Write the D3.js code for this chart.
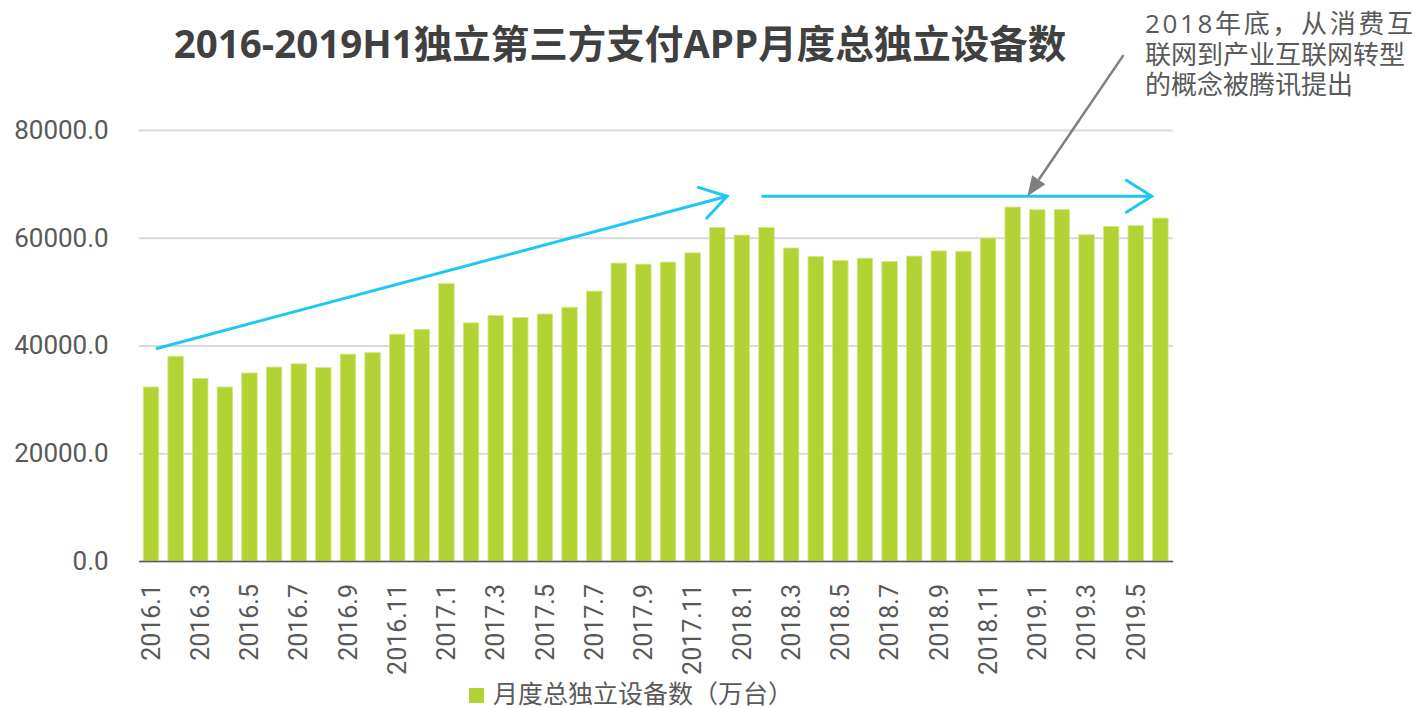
<!DOCTYPE html>
<html>
<head>
<meta charset="utf-8">
<script src="https://cdn.jsdelivr.net/npm/d3@7"></script>
<style>
  body { margin: 0; background: #fff; }
  svg { display: block; }
  text { fill: #595959; }
</style>
</head>
<body>
<div class="chart"></div>
<script>
const months = [
  '2016.1','2016.2','2016.3','2016.4','2016.5','2016.6','2016.7','2016.8','2016.9','2016.10','2016.11','2016.12',
  '2017.1','2017.2','2017.3','2017.4','2017.5','2017.6','2017.7','2017.8','2017.9','2017.10','2017.11','2017.12',
  '2018.1','2018.2','2018.3','2018.4','2018.5','2018.6','2018.7','2018.8','2018.9','2018.10','2018.11','2018.12',
  '2019.1','2019.2','2019.3','2019.4','2019.5','2019.6'
];
const devices = [
  32300, 38000, 33900, 32300, 34900, 36000, 36600, 35900, 38400, 38700, 42100, 43000,
  51500, 44200, 45600, 45200, 45850, 47100, 50100, 55300, 55100, 55500, 57200, 61900,
  60500, 61900, 58100, 56550, 55800, 56200, 55600, 56600, 57550, 57500, 59950, 65700,
  65200, 65250, 60550, 62100, 62250, 63650
];
const yTicks = [0, 20000, 40000, 60000, 80000];

const title = '2016-2019H1独立第三方支付APP月度总独立设备数';
const seriesName = '月度总独立设备数（万台）';
const noteLines = ['2018年底，从消费互', '联网到产业互联网转型', '的概念被腾讯提出'];

// trend arrows: [bar index (fractional), value]
const trendUp = [[0.2, 39400], [23.4, 67700]];
const trendFlat = [[24.8, 67700], [40.65, 67700]];
const notePointer = [[39.5, 93900], [35.6, 67700]];

const width = 1419;
const height = 708;
const svg = d3.select('.chart').append('svg').attr('width', width).attr('height', height);

const x = d3.scaleBand().domain(months).range([138.7, 1172.7]).paddingInner(0.37).paddingOuter(0.185);
const y = d3.scaleLinear().domain([0, 80000]).range([561, 130]);
const xAt = i => x(months[0]) + x.bandwidth() / 2 + i * x.step();

// gridlines + y labels
const yAxis = svg.append('g').attr('transform', 'translate(138.7,0)')
  .call(d3.axisLeft(y).tickValues(yTicks).tickSize(-(1172.7 - 138.7)).tickPadding(30).tickFormat(d3.format('.1f')));
yAxis.select('.domain').remove();
yAxis.selectAll('.tick line').attr('stroke', '#d9d9d9').attr('stroke-width', 2);
yAxis.selectAll('.tick text').attr('font-family', 'Roboto, sans-serif').attr('font-size', 26).attr('fill', '#595959');

// bars
svg.append('g').selectAll('rect').data(devices).enter().append('rect')
  .attr('x', (d, i) => x(months[i]))
  .attr('y', d => y(d))
  .attr('width', x.bandwidth())
  .attr('height', d => y(0) - y(d))
  .attr('fill', '#b3d234')
  .attr('stroke', '#d8e88f')
  .attr('stroke-width', 0.8);

// x axis
const xAxis = svg.append('g').attr('transform', 'translate(0,561)')
  .call(d3.axisBottom(x).tickSize(0).tickPadding(0).tickValues(months.filter((m, i) => i % 2 == 0)));
xAxis.select('.domain').attr('stroke', '#595959').attr('stroke-width', 1.5);
xAxis.selectAll('.tick text')
  .attr('font-family', 'Roboto, sans-serif').attr('font-size', 25).attr('fill', '#595959')
  .attr('text-anchor', 'end')
  .attr('transform', 'rotate(-90)')
  .attr('x', -23).attr('y', 0).attr('dy', '0.35em');

// arrows
const blue = '#1fc8f2';
function chevron(p0, p1, color) {
  const ang = Math.atan2(p1[1] - p0[1], p1[0] - p0[0]);
  const len = 30, spread = 0.56;
  const a = [p1[0] - len * Math.cos(ang - spread), p1[1] - len * Math.sin(ang - spread)];
  const b = [p1[0] - len * Math.cos(ang + spread), p1[1] - len * Math.sin(ang + spread)];
  svg.append('path').attr('d', d3.line()([a, p1, b]))
    .attr('fill', 'none').attr('stroke', color).attr('stroke-width', 3).attr('stroke-linecap', 'round');
}
[trendUp, trendFlat].forEach(function (seg) {
  const pts = seg.map(p => [xAt(p[0]), y(p[1])]);
  svg.append('path').attr('d', d3.line()(pts))
    .attr('fill', 'none').attr('stroke', blue).attr('stroke-width', 3);
  chevron(pts[0], pts[1], blue);
});

// pointer from note
const np = notePointer.map(p => [xAt(p[0]), y(p[1])]);
const ang = Math.atan2(np[1][1] - np[0][1], np[1][0] - np[0][0]);
const headLen = 20, headW = 8;
const base = [np[1][0] - headLen * Math.cos(ang), np[1][1] - headLen * Math.sin(ang)];
svg.append('line')
  .attr('x1', np[0][0]).attr('y1', np[0][1]).attr('x2', base[0]).attr('y2', base[1])
  .attr('stroke', '#7f7f7f').attr('stroke-width', 2.5);
svg.append('path')
  .attr('d', d3.line()([
    np[1],
    [base[0] + headW * Math.sin(ang), base[1] - headW * Math.cos(ang)],
    [base[0] - headW * Math.sin(ang), base[1] + headW * Math.cos(ang)]
  ]) + 'Z')
  .attr('fill', '#7f7f7f');

// note text
svg.append('g').selectAll('text').data(noteLines).enter().append('text')
  .attr('x', 1145).attr('y', (d, i) => 33 + i * 30.5)
  .attr('font-family', '"Open Sans", "Noto Sans CJK SC", sans-serif').attr('font-size', 26)
  .attr('fill', '#595959')
  .attr('textLength', (d, i) => i == 0 ? 268 : null)
  .text(d => d);

// title
svg.append('text')
  .attr('x', 620).attr('y', 58)
  .attr('text-anchor', 'middle')
  .attr('font-family', '"Open Sans", "Noto Sans CJK SC", sans-serif')
  .attr('font-weight', 'bold').attr('font-size', 38.5)
  .style('fill', '#404040')
  .text(title);

// legend
svg.append('rect').attr('x', 469).attr('y', 688).attr('width', 15).attr('height', 15).attr('fill', '#b3d234');
svg.append('text')
  .attr('x', 493).attr('y', 703)
  .attr('font-family', '"Noto Sans CJK SC", sans-serif').attr('font-size', 25)
  .attr('fill', '#595959')
  .text(seriesName);
</script>
</body>
</html>
